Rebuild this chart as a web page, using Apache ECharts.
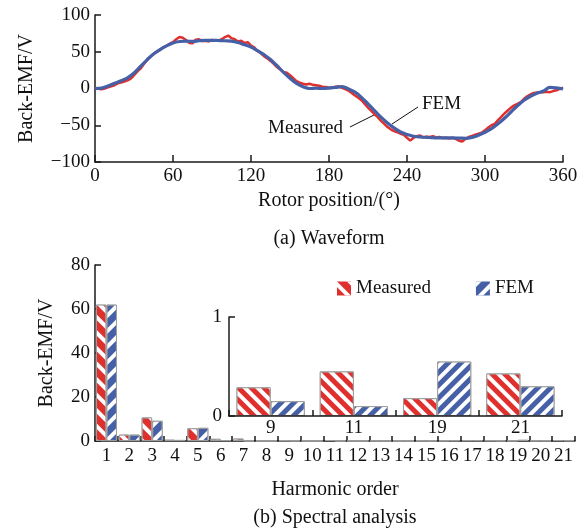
<!DOCTYPE html>
<html><head><meta charset="utf-8">
<script src="https://cdn.jsdelivr.net/npm/echarts@6/dist/echarts.min.js"></script>
<style>html,body{margin:0;padding:0;background:#fff}#c{width:582px;height:531px}</style>
</head><body><div id="c"></div>
<script>
// ---- waveform data (Back-EMF, V) ----
const measuredStepDeg = 2.5;
const measuredWave = [
  0, -0.5, -1, 0, 1.5, 3, 4.5, 7, 8, 9.5, 11, 13.5,
  18, 23, 27, 33, 38.5, 43, 47, 50, 52.5, 56, 58, 61,
  63, 67, 70, 69, 66, 62, 61.5, 66.5, 67, 64.5, 65, 64,
  66, 65, 65.5, 67, 70, 72, 68.5, 67, 64, 65, 62, 63,
  58.5, 56, 51, 48, 44, 41, 37.5, 33.5, 29, 26, 22.5, 21.5,
  18, 14, 10, 8, 6.5, 5.5, 6.5, 5, 4.5, 3.8, 2.5, 2,
  1, 1.5, 2.5, 3, 1, -1, -3, -6, -9.5, -12.5, -16, -21,
  -26, -30.5, -35, -39, -44, -48, -52.5, -55.5, -58, -59.5, -61.5, -63,
  -67, -71, -67, -65, -64, -66.5, -65.5, -66, -65, -66.5, -66, -67.5,
  -67, -68, -67, -68.5, -71, -72, -68.5, -66, -64.5, -63, -61.5, -60,
  -57, -53, -50, -48, -43, -38.5, -34, -30, -26, -23, -21, -18.5,
  -14, -10.5, -8, -6, -5.5, -5, -5, -4.5, -5, -3.5, -2.5, -0.5,
  1
];
const femStepDeg = 5;
const femWave = [
  0, 0.5, 3.5, 7, 10.5, 14.5, 21, 30, 39, 47, 53, 58,
  62, 64, 64.5, 64, 65, 65.5, 65.5, 65.3, 65, 64.5, 62.5, 59.5,
  56.5, 51.5, 46, 39.5, 31, 22, 14, 7, 2.5, 0, 0.5, 0,
  0.5, 1.5, 2.5, -0.5, -5, -12, -21, -30, -39, -47, -53.5, -59,
  -62.5, -65, -66, -66.5, -67, -67.3, -67.3, -67.3, -67.5, -67.8, -66.5, -63.5,
  -59.5, -54.5, -48, -40.5, -32, -23.5, -16, -10.5, -6.5, -3.5, 1.5, 0.8,
  -0.5
];

// ---- spectrum data ----
const harmonics = ['1','2','3','4','5','6','7','8','9','10','11','12','13','14','15','16','17','18','19','20','21'];
const measuredSpec = [62, 2.9, 10.7, 0.6, 5.8, 1.0, 1.1, 0.1, 0.29, 0.1, 0.45, 0.1, 0.1, 0.1, 0.15, 0.2, 0.35, 0.3, 0.18, 0.2, 0.43];
const femSpec      = [62, 2.9, 9.2, 0.5, 6.0, 0.4, 0.1, 0.05, 0.15, 0.05, 0.10, 0.05, 0.05, 0.05, 0.1, 0.3, 0.35, 0.2, 0.55, 0.2, 0.30];
const insetHarmonics = ['9','11','19','21'];
const measuredInset = [0.29, 0.45, 0.18, 0.43];
const femInset      = [0.15, 0.10, 0.55, 0.30];

const FONT = 'Liberation Serif';
const RED = '#e0302e';
const BLUE = '#4560a6';
const AX = '#1a1a1a';

const measuredPts = measuredWave.map((v, i) => [i * measuredStepDeg, v]);
const femPts = femWave.map((v, i) => [i * femStepDeg, v]);

const minus = v => String(v).replace('-', '\u2212');

function stripes(rot, dash, gap) {
  return {symbol: 'rect', symbolSize: 1, dashArrayX: [1, 0], dashArrayY: [dash, gap], rotation: rot, color: '#ffffff'};
}
const redDecal = stripes(Math.PI / 4, 3.5, 7);
const blueDecal = stripes(-Math.PI / 4, 3.5, 7);
const redDecalInset = stripes(Math.PI / 4, 3.5, 5);
const blueDecalInset = stripes(-Math.PI / 4, 3.5, 5);

function axisBase(extra) {
  return Object.assign({
    axisLine: {show: true, onZero: false, lineStyle: {color: AX, width: 1.5}},
    axisTick: {show: true, inside: true, length: 6, lineStyle: {color: AX, width: 1.5}},
    axisLabel: {color: '#111', fontFamily: FONT, fontSize: 19, margin: 5},
    splitLine: {show: false},
    nameTextStyle: {color: '#111', fontFamily: FONT, fontSize: 20}
  }, extra);
}

const chart = echarts.init(document.getElementById('c'), null, {renderer: 'canvas'});
chart.setOption({
  animation: false,
  backgroundColor: '#fff',
  grid: [
    {left: 95, top: 15, width: 468, height: 147},
    {left: 95, top: 265, width: 480, height: 176},
    {left: 229, top: 317, width: 333, height: 99, show: true, backgroundColor: '#fff', borderWidth: 0, z: 3}
  ],
  xAxis: [
    axisBase({gridIndex: 0, type: 'value', min: 0, max: 360, interval: 60,
      name: 'Rotor position/(°)', nameLocation: 'middle', nameGap: 29,
      axisTick: {show: true, inside: true, length: 7, lineStyle: {color: AX, width: 1.5}}}),
    axisBase({gridIndex: 1, type: 'category', data: harmonics,
      name: 'Harmonic order', nameLocation: 'middle', nameGap: 39,
      axisLabel: {color: '#111', fontFamily: FONT, fontSize: 19, margin: 6, interval: 0},
      axisTick: {show: true, inside: true, length: 5, interval: 0, lineStyle: {color: AX, width: 1.5}}}),
    axisBase({gridIndex: 2, type: 'category', data: insetHarmonics, z: 6,
      axisLabel: {color: '#111', fontFamily: FONT, fontSize: 19, margin: 3, interval: 0},
      axisTick: {show: true, inside: true, length: 6, interval: 0, lineStyle: {color: AX, width: 1.5}}})
  ],
  yAxis: [
    axisBase({gridIndex: 0, type: 'value', min: -100, max: 100, interval: 50,
      name: 'Back-EMF/V', nameLocation: 'middle', nameGap: 58,
      axisLabel: {color: '#111', fontFamily: FONT, fontSize: 19, margin: 5, formatter: minus}}),
    axisBase({gridIndex: 1, type: 'value', min: 0, max: 80, interval: 20,
      name: 'Back-EMF/V', nameLocation: 'middle', nameGap: 38}),
    axisBase({gridIndex: 2, type: 'value', min: 0, max: 1, interval: 1, z: 6,
      axisLabel: {color: '#111', fontFamily: FONT, fontSize: 19, margin: 7}})
  ],
  legend: {
    left: 332, top: 274, itemWidth: 14, itemHeight: 14, itemGap: 45, icon: 'rect',
    selectedMode: false, data: ['Measured', 'FEM'],
    itemStyle: {borderWidth: 0},
    textStyle: {color: '#111', fontFamily: FONT, fontSize: 19}
  },
  series: [
    {name: 'Measured waveform', type: 'line', xAxisIndex: 0, yAxisIndex: 0, data: measuredPts,
      showSymbol: false, lineStyle: {color: RED, width: 2.5}, itemStyle: {color: RED}, z: 2},
    {name: 'FEM waveform', type: 'line', xAxisIndex: 0, yAxisIndex: 0, data: femPts, smooth: 0.4,
      showSymbol: false, lineStyle: {color: BLUE, width: 3.2}, itemStyle: {color: BLUE}, z: 3},
    {name: 'Measured', type: 'bar', xAxisIndex: 1, yAxisIndex: 1, data: measuredSpec,
      barGap: '0%', barCategoryGap: '8%',
      itemStyle: {color: RED, borderColor: '#9c9c9c', borderWidth: 1, decal: redDecal}},
    {name: 'FEM', type: 'bar', xAxisIndex: 1, yAxisIndex: 1, data: femSpec,
      barGap: '0%', barCategoryGap: '8%',
      itemStyle: {color: BLUE, borderColor: '#9c9c9c', borderWidth: 1, decal: blueDecal}},
    {name: 'Measured', type: 'bar', xAxisIndex: 2, yAxisIndex: 2, data: measuredInset, z: 5,
      barGap: '0%', barCategoryGap: '18%',
      itemStyle: {color: RED, borderColor: '#9c9c9c', borderWidth: 1, decal: redDecalInset}},
    {name: 'FEM', type: 'bar', xAxisIndex: 2, yAxisIndex: 2, data: femInset, z: 5,
      barGap: '0%', barCategoryGap: '18%',
      itemStyle: {color: BLUE, borderColor: '#9c9c9c', borderWidth: 1, decal: blueDecalInset}}
  ],
  graphic: [
    {type: 'text', left: 268, top: 119, style: {text: 'Measured', fill: '#111', font: '19px "Liberation Serif"'}},
    {type: 'line', shape: {x1: 350, y1: 127, x2: 374, y2: 115}, style: {stroke: '#111', lineWidth: 1}},
    {type: 'text', left: 422, top: 95, style: {text: 'FEM', fill: '#111', font: '19px "Liberation Serif"'}},
    {type: 'line', shape: {x1: 392, y1: 124, x2: 418, y2: 107}, style: {stroke: '#111', lineWidth: 1}},
    {type: 'text', x: 329, y: 239, style: {text: '(a) Waveform', fill: '#111', font: '20px "Liberation Serif"', align: 'center', verticalAlign: 'middle'}},
    {type: 'text', x: 335, y: 518, style: {text: '(b) Spectral analysis', fill: '#111', font: '20px "Liberation Serif"', align: 'center', verticalAlign: 'middle'}}
  ]
});
</script></body></html>
